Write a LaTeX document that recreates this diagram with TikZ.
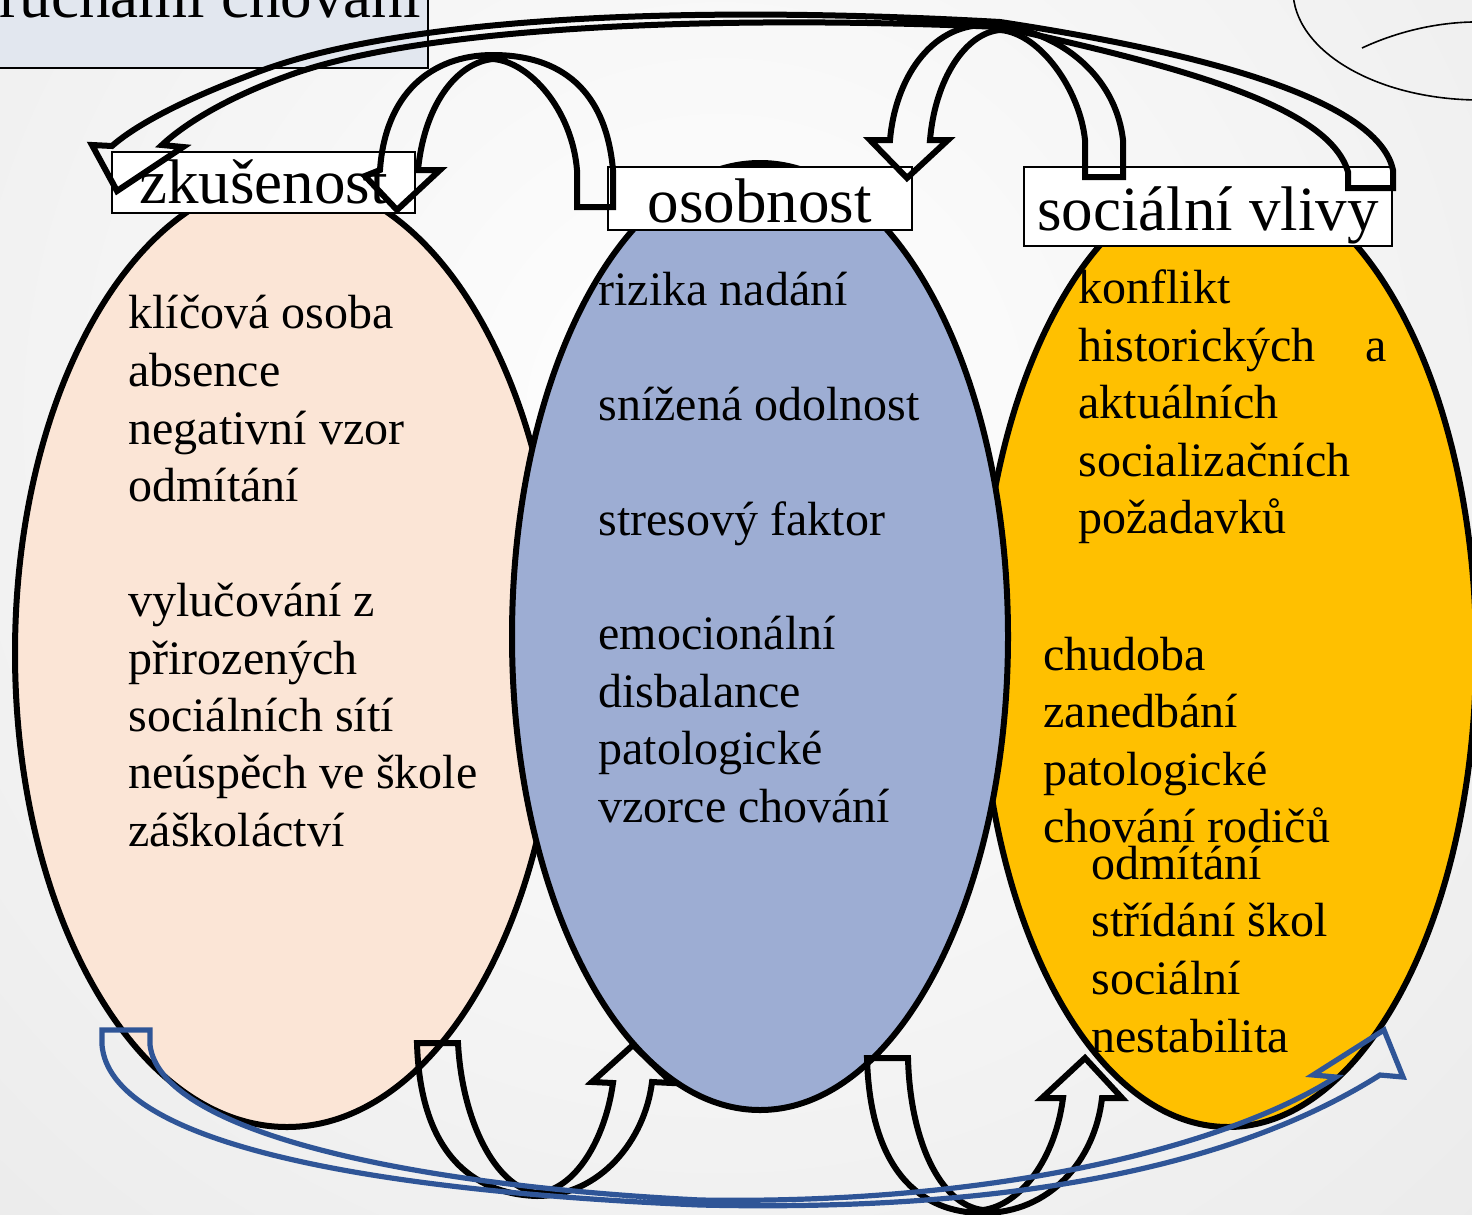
\documentclass[tikz,border=0pt]{standalone}
\usepackage{fontspec}
\setmainfont{Liberation Serif}
\usetikzlibrary{shapes.geometric}
\definecolor{peach}{HTML}{FBE5D6}
\definecolor{slate}{HTML}{9DADD3}
\definecolor{gold}{HTML}{FFC000}
\definecolor{titlefill}{HTML}{E2E7EF}
\definecolor{navy}{HTML}{2F5597}

\begin{document}
\begin{tikzpicture}[x=0.5pt,y=-0.5pt,
  bubble/.style={ellipse,draw=black,line width=3pt,inner sep=0pt},
  tag/.style={draw=black,fill=white,line width=1.2pt,inner sep=0pt,
    font=\fontsize{31.5}{36}\selectfont},
  item/.style={anchor=base west,inner sep=0pt,font=\fontsize{24}{28}\selectfont},
  bendarrow/.style={draw=black,line width=3pt},
  bluearrow/.style={draw=navy,line width=2.6pt}]
  \useasboundingbox (0,0) rectangle (1472,1215);
  % slide background
  \shade[inner color=white,outer color=black!9] (720,420) circle (640pt);
  % title box, cut by the page edge
  \fill[titlefill] (-20,-80) rectangle (428,68);
  \draw[line width=1.2pt] (-20,68) -- (428,68) -- (428,-80);
  \node[anchor=base east,inner sep=0pt,font=\fontsize{31.5}{36}\selectfont]
    (title) at (421,18) {ruchami chování};
  % face in the corner
  \draw[line width=0.8pt] (1480,-10) ellipse [x radius=93.5pt,y radius=55pt];
  \draw[line width=0.8pt] (1362,48) .. controls (1392,34) and (1430,23) .. (1472,22);

  % the three spheres
  \node[bubble,fill=peach,minimum width=272pt,minimum height=474pt] (exp) at (287,653) {};
  \node[bubble,fill=gold,minimum width=248pt,minimum height=475pt] (soc) at (1228,652) {};
  \node[bubble,fill=slate,minimum width=248pt,minimum height=473.5pt] (pers) at (760,636.5) {};

  \foreach \y/\txt in {328/klíčová osoba,386/absence,444/negativní vzor,501/odmítání,
      616/vylučování z,674/přirozených,731/sociálních sítí,788/neúspěch ve škole,846/záškoláctví}
    \node[item] (exp-\y) at (128,\y) {\txt};
  \foreach \y/\txt in {305/rizika nadání,420/snížená odolnost,535/stresový faktor,
      649/emocionální,707/disbalance,764/patologické,822/vzorce chování}
    \node[item] (pers-\y) at (598,\y) {\txt};
  \foreach \y/\txt in {303/konflikt,361/{\makebox[154pt][s]{historických a}},418/aktuálních,
      476/socializačních,533/požadavků}
    \node[item] (soc-\y) at (1078,\y) {\txt};
  \foreach \y/\txt in {670/chudoba,727/zanedbání,785/patologické,842/chování rodičů}
    \node[item] (soc-\y) at (1043,\y) {\txt};
  \foreach \y/\txt in {879/odmítání,936/střídání škol,994/sociální,1052/nestabilita}
    \node[item] (soc-\y) at (1091,\y) {\txt};

  % headings
  \node[tag,minimum width=151.5pt,text height=25.5pt,text depth=5pt] (zkus) at (263.5,182.5) {zkušenost};
  \node[tag,minimum width=152pt,text height=27.5pt,text depth=4pt] (osob) at (760,198.5) {osobnost};
  \node[tag,minimum width=184pt,text height=31.5pt,text depth=8pt] (vliv) at (1208,206.5) {sociální vlivy};

  % curved block arrows on top
  \draw[bendarrow] (577,207) -- (613,207) -- (613,170) .. controls (605,80) and (550,55) .. (493,55)
    .. controls (430,55) and (385,95) .. (380,170) -- (365,176) -- (397,210) -- (440,170) -- (418,170)
    .. controls (425,100) and (460,62) .. (493,59) .. controls (530,62) and (572,110) .. (577,170) -- cycle;
  \draw[bendarrow] (1085,177) -- (1123,177) -- (1123,140) .. controls (1115,70) and (1050,25) .. (985,25)
    .. controls (930,25) and (895,80) .. (890,140) -- (870,140) -- (907,178) -- (948,140) -- (930,140)
    .. controls (935,80) and (965,33) .. (1000,30) .. controls (1040,33) and (1080,90) .. (1085,140) -- cycle;
  \draw[bendarrow] (1348,188) -- (1393,188) -- (1393,170) .. controls (1380,110) and (1250,60) .. (1000,22)
    .. controls (700,5) and (400,15) .. (250,75) .. controls (170,105) and (130,130) .. (112,146)
    -- (92,145) -- (117,191) -- (183,147) -- (162,145)
    .. controls (180,128) and (220,100) .. (290,75) .. controls (420,28) and (700,14) .. (1000,27)
    .. controls (1200,70) and (1330,110) .. (1348,172) -- cycle;
  % curved block arrows below
  \draw[bendarrow] (417,1043) -- (458,1043) .. controls (462,1120) and (495,1187) .. (537,1193)
    .. controls (575,1190) and (605,1140) .. (613,1083) -- (592,1082) -- (633,1045) -- (672,1083) -- (652,1082)
    .. controls (645,1140) and (600,1196) .. (537,1196) .. controls (470,1194) and (420,1150) .. (417,1043) -- cycle;
  \draw[bendarrow] (867,1058) -- (908,1058) .. controls (910,1140) and (940,1205) .. (983,1210)
    .. controls (1020,1205) and (1055,1160) .. (1063,1098) -- (1042,1098) -- (1085,1058) -- (1122,1098) -- (1102,1098)
    .. controls (1095,1160) and (1050,1213) .. (983,1213) .. controls (920,1213) and (870,1170) .. (867,1058) -- cycle;
  \draw[bluearrow] (102,1030) -- (150,1030) -- (150,1045) .. controls (160,1130) and (400,1185) .. (700,1200)
    .. controls (1000,1205) and (1230,1145) .. (1336,1077) -- (1313,1075) -- (1384,1030) -- (1403,1077) -- (1380,1075)
    .. controls (1230,1170) and (1000,1212) .. (700,1205) .. controls (350,1190) and (110,1140) .. (102,1045) -- cycle;
\end{tikzpicture}
\end{document}
